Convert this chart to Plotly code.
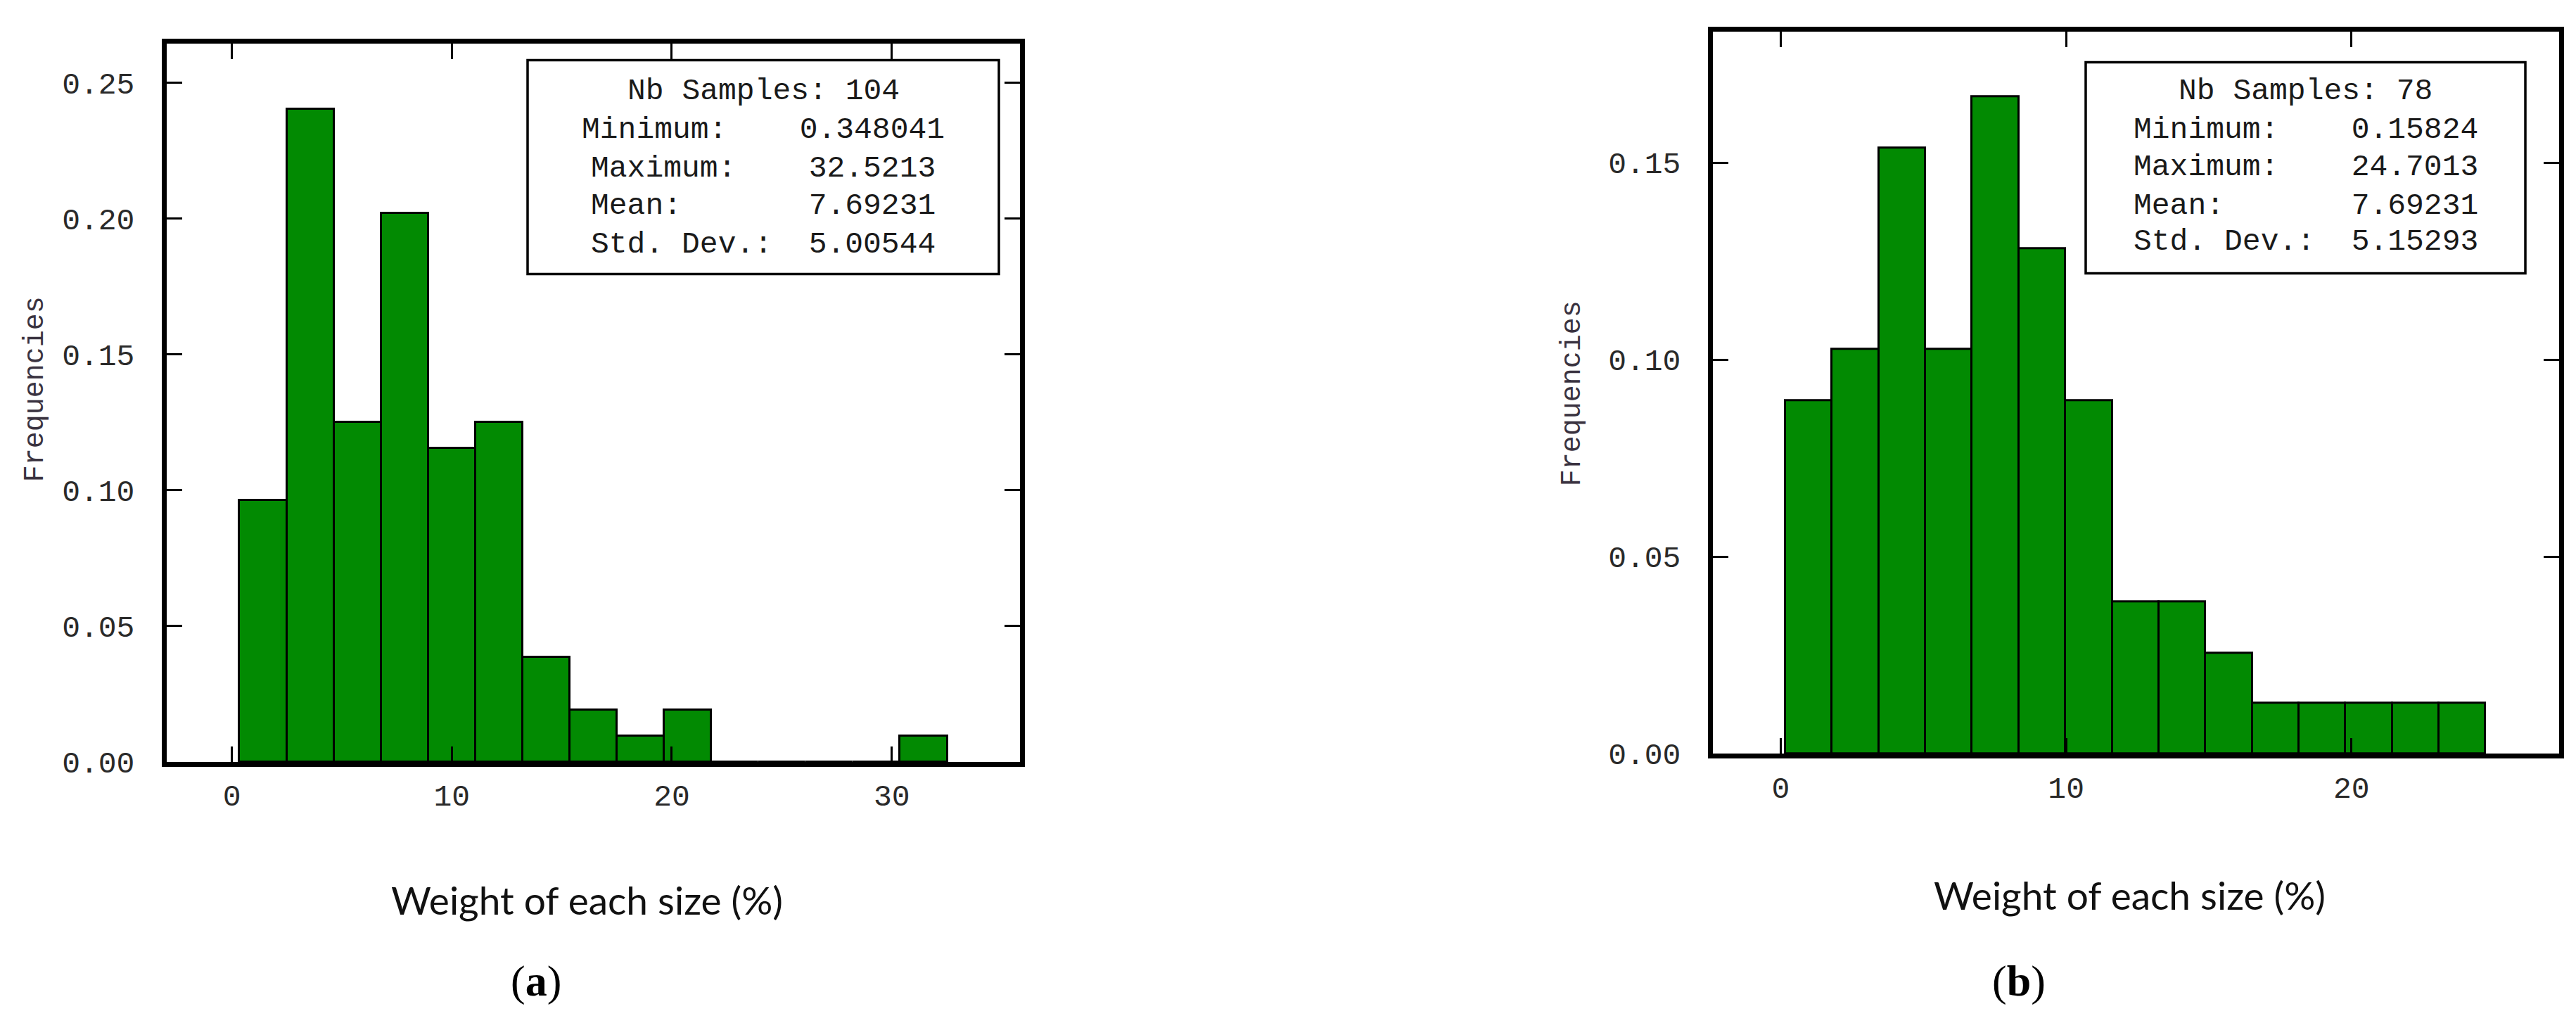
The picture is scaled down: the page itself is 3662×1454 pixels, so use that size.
import plotly.graph_objects as go

# ---------------- data ----------------
# (a) 104 samples, 15 equal bins between min and max
a_n_bins = 15
a_min = 0.348041
a_max = 32.5213
a_freq = [0.0962, 0.2404, 0.125, 0.2019, 0.1154, 0.125, 0.0385, 0.0192, 0.0096, 0.0192,
          0.0, 0.0, 0.0, 0.0, 0.0096]
a_stats_lines = ["Nb Samples: 104", "Minimum:    0.348041", "Maximum:    32.5213",
                 "Mean:       7.69231", "Std. Dev.:  5.00544"]

# (b) 78 samples
b_n_bins = 15
b_min = 0.15824
b_max = 24.7013
b_freq = [0.0897, 0.1026, 0.1538, 0.1026, 0.1667, 0.1282, 0.0897, 0.0385, 0.0385, 0.0256,
          0.0128, 0.0128, 0.0128, 0.0128, 0.0128]
b_stats_lines = ["Nb Samples: 78", "Minimum:    0.15824", "Maximum:    24.7013",
                 "Mean:       7.69231", "Std. Dev.:  5.15293"]

a_yticks = [0.0, 0.05, 0.10, 0.15, 0.20, 0.25]
b_yticks = [0.0, 0.05, 0.10, 0.15]
a_xticks = [0, 10, 20, 30]
b_xticks = [0, 10, 20]

x_title = "Weight of each size (%)"
y_title = "Frequencies"
panel_labels = ["(<b>a</b>)", "(<b>b</b>)"]

# ---------------- layout ----------------
W, H = 3662, 1454
MONO = "Courier New, Liberation Mono, monospace"
SANS = "Lato, Open Sans, sans-serif"
SERIF = "Times New Roman, Liberation Serif, serif"
GREEN = "#028A02"


def px(x):
    return x / W


def py(y):
    return 1 - y / H


def bins(vmin, vmax, n):
    w = (vmax - vmin) / n
    centers = [vmin + w * (i + 0.5) for i in range(n)]
    return centers, w


fig = go.Figure()

a_centers, a_w = bins(a_min, a_max, a_n_bins)
b_centers, b_w = bins(b_min, b_max, b_n_bins)

fig.add_trace(go.Bar(x=a_centers, y=a_freq, width=a_w, xaxis="x", yaxis="y",
                     marker=dict(color=GREEN, line=dict(color="black", width=3)),
                     showlegend=False))
fig.add_trace(go.Bar(x=b_centers, y=b_freq, width=b_w, xaxis="x2", yaxis="y2",
                     marker=dict(color=GREEN, line=dict(color="black", width=3)),
                     showlegend=False))

axis_common = dict(showline=True, linecolor="black", linewidth=7, mirror="allticks",
                   ticks="inside", ticklen=22, tickwidth=3, tickcolor="black",
                   showgrid=False, zeroline=False,
                   tickfont=dict(family=MONO, size=43, color="#2a2a2a"))

panels = {
    "a": dict(x0=229, x1=1442, y0=55, y1=1096),
    "b": dict(x0=2427, x1=3630, y0=38, y1=1084),
}

fig.update_layout(
    width=W, height=H,
    margin=dict(l=0, r=0, t=0, b=0),
    paper_bgcolor="white", plot_bgcolor="white",
    bargap=0,
    xaxis=dict(domain=[px(panels["a"]["x0"]), px(panels["a"]["x1"])], anchor="y",
               range=[-2.96, 35.83], tickvals=a_xticks, ticklabelstandoff=4, **axis_common),
    yaxis=dict(domain=[py(panels["a"]["y1"]), py(panels["a"]["y0"])], anchor="x",
               range=[0, 0.2644], tickvals=a_yticks, tickformat=".2f",
               ticklabelstandoff=30, **axis_common),
    xaxis2=dict(domain=[px(panels["b"]["x0"]), px(panels["b"]["x1"])], anchor="y2",
                range=[-2.38, 27.28], tickvals=b_xticks, ticklabelstandoff=4, **axis_common),
    yaxis2=dict(domain=[py(panels["b"]["y1"]), py(panels["b"]["y0"])], anchor="x2",
                range=[0, 0.1832], tickvals=b_yticks, tickformat=".2f",
                ticklabelstandoff=30, **axis_common),
)

annotations = []
shapes = []

# stats boxes
boxes = [
    dict(x0=742, x1=1412, y0=79, y1=389, lines=a_stats_lines, ys=[124, 180, 236, 290, 346]),
    dict(x0=2957, x1=3582, y0=82, y1=388, lines=b_stats_lines, ys=[124, 180, 234, 290, 342]),
]
for bx in boxes:
    shapes.append(dict(type="rect", xref="paper", yref="paper",
                       x0=px(bx["x0"]), x1=px(bx["x1"]), y0=py(bx["y1"]), y1=py(bx["y0"]),
                       line=dict(color="black", width=3.5), fillcolor="white", layer="above"))
    cx = (bx["x0"] + bx["x1"]) / 2
    for line, yy in zip(bx["lines"], bx["ys"]):
        annotations.append(dict(text=line.replace(" ", "\u00a0"), xref="paper", yref="paper",
                                x=px(cx), y=py(yy), xanchor="center", yanchor="middle",
                                showarrow=False,
                                font=dict(family=MONO, size=43, color="#1a1a1a")))

# axis titles
for xc, yc in [(42, 556), (2227, 562)]:
    annotations.append(dict(text=y_title, xref="paper", yref="paper", x=px(xc), y=py(yc),
                            xanchor="center", yanchor="middle", textangle=-90, showarrow=False,
                            font=dict(family=MONO, size=40, color="#3a3340")))
for xc, yc in [(826, 1296), (3019, 1289)]:
    annotations.append(dict(text=x_title, xref="paper", yref="paper", x=px(xc), y=py(yc),
                            xanchor="center", yanchor="middle", showarrow=False,
                            font=dict(family=SANS, size=55, color="#111111")))
# panel labels
for lbl, xc in zip(panel_labels, [754, 2862]):
    annotations.append(dict(text=lbl, xref="paper", yref="paper", x=px(xc), y=py(1414),
                            xanchor="center", yanchor="middle", showarrow=False,
                            font=dict(family=SERIF, size=62, color="black")))

fig.update_layout(annotations=annotations, shapes=shapes)

fig.write_html("out.html")
